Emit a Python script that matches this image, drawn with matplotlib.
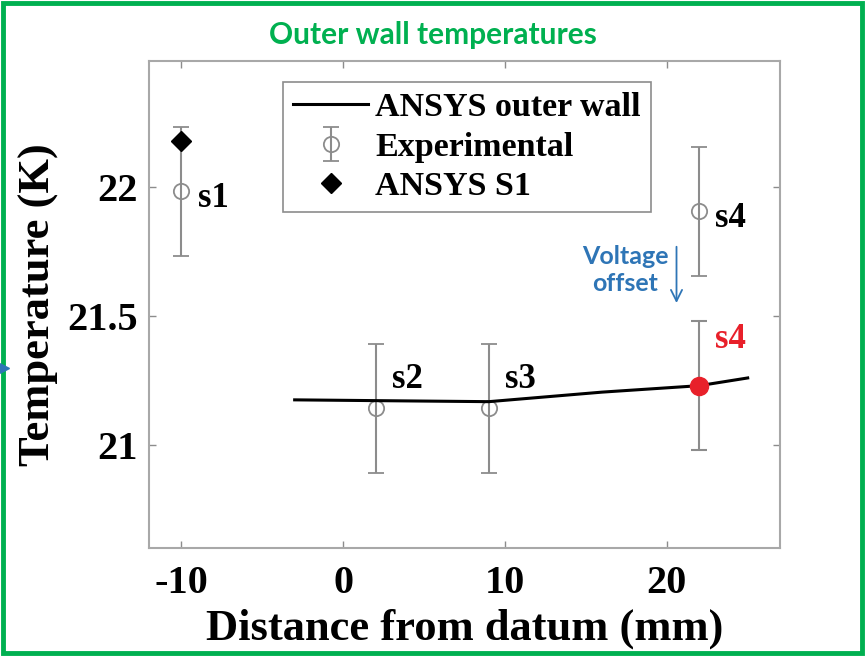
import matplotlib
matplotlib.use('Agg')
import numpy as np
from matplotlib import pyplot as plt
from matplotlib.patches import Rectangle
from matplotlib.lines import Line2D

# ANSYS outer wall profile
wall_x = [-3, 2, 9, 16, 22, 25]
wall_t = [21.175, 21.172, 21.168, 21.205, 21.23, 21.26]

# experimental sensors
sensor_names = ['s1', 's2', 's3', 's4']
sensor_x = [-10, 2, 9, 22]
sensor_t = [21.985, 21.143, 21.143, 21.907]
sensor_err = [0.25, 0.25, 0.25, 0.25]

# s4 after voltage offset correction
s4_corr_x = 22
s4_corr_t = 21.23
s4_corr_err = 0.25

# ANSYS value at S1
s1_ansys_x = -10
s1_ansys_t = 22.18

plt.rcParams['axes.unicode_minus'] = False

serif = 'Liberation Serif'
gray = '#8c8c8c'
green = '#00b050'
blue = '#2e75b6'

fig = plt.figure(figsize=(8.65, 6.56), dpi=100)
ax = fig.add_axes([0.1723, 0.1646, 0.7295, 0.7424])

line, = ax.plot(wall_x, wall_t, color='black', lw=2.2, zorder=3)
exp = ax.errorbar(sensor_x, sensor_t, yerr=sensor_err, fmt='o', ms=11,
                  mfc='none', mec=gray, mew=1.3, ecolor=gray, elinewidth=1.5,
                  capsize=6, capthick=1.5, zorder=2)
ax.errorbar(s4_corr_x, s4_corr_t, yerr=s4_corr_err, fmt='o', ms=13,
            mfc='#e8202a', mec='#e8202a', ecolor=gray, elinewidth=1.5,
            capsize=6, capthick=1.5, zorder=4)
dia, = ax.plot(s1_ansys_x, s1_ansys_t, 'D', color='black', ms=10, zorder=4)

# sensor labels
offsets = {'s1': (1.0, -0.03), 's2': (1.0, 0.11), 's3': (1.0, 0.11),
           's4': (1.0, -0.03)}
for name, x, t in zip(sensor_names, sensor_x, sensor_t):
    dx, dy = offsets[name]
    ax.text(x + dx, t + dy, name, fontsize=25, fontweight='bold',
            family=serif, va='center', ha='left')
ax.text(s4_corr_x + 1.0, s4_corr_t + 0.18, 's4', fontsize=25,
        fontweight='bold', family=serif, color='#e8202a', va='center')

ax.set_xlim(-12, 27)
ax.set_ylim(20.6, 22.49)
ax.set_xticks([-10, 0, 10, 20])
ax.set_yticks([21, 21.5, 22])
ax.set_yticklabels(['21', '21.5', '22'])
ax.tick_params(direction='in', length=5, width=1, color=gray,
               top=True, right=True, labelsize=29)
ax.tick_params(axis='x', pad=12)
ax.tick_params(axis='y', pad=8)
for lab in ax.get_xticklabels() + ax.get_yticklabels():
    lab.set_family(serif)
    lab.set_fontweight('bold')
for sp in ax.spines.values():
    sp.set_color('#a8a8a8')
    sp.set_linewidth(1.5)

ax.set_xlabel('Distance from datum (mm)', fontsize=32, fontweight='bold',
              family=serif, labelpad=5)
ax.set_ylabel('Temperature (K)', fontsize=32, fontweight='bold',
              family=serif, labelpad=6)

leg = ax.legend([line, exp, dia],
                ['ANSYS outer wall', 'Experimental', 'ANSYS S1'],
                loc='upper left', bbox_to_anchor=(283 / 865, 1 - 82 / 656),
                bbox_transform=fig.transFigure, borderaxespad=0,
                prop={'family': serif, 'weight': 'bold', 'size': 24.5},
                handlelength=2.2, handletextpad=0.2, labelspacing=0.25,
                fancybox=False, framealpha=1, edgecolor=gray,
                borderpad=0.3)
leg.get_frame().set_linewidth(1.2)

# annotation for the offset
ax.annotate('', xy=(20.6, 21.54), xytext=(20.6, 21.78),
            arrowprops=dict(arrowstyle='->', color=blue, lw=1.3,
                            mutation_scale=20))
fig.text(625 / 865, 1 - 270 / 656, 'Voltage\noffset', color=blue,
         fontsize=18, fontweight='bold', family='Lato', ha='center',
         va='center', linespacing=1.2)

fig.text(0.5, 1 - 35 / 656, 'Outer wall temperatures', color=green,
         fontsize=21.5, fontweight='bold', family='Lato', ha='center',
         va='center')

# arrowhead peeking in at the left edge
fig.add_artist(Line2D([0.004], [1 - 368 / 656], marker='>', ms=8,
                      color=blue, transform=fig.transFigure))

fig.patches.append(Rectangle((3 / 865, 3 / 656), 859 / 865, 650 / 656,
                             transform=fig.transFigure, fill=False,
                             edgecolor=green, lw=3.5))

fig.savefig('out.png', dpi=100)
